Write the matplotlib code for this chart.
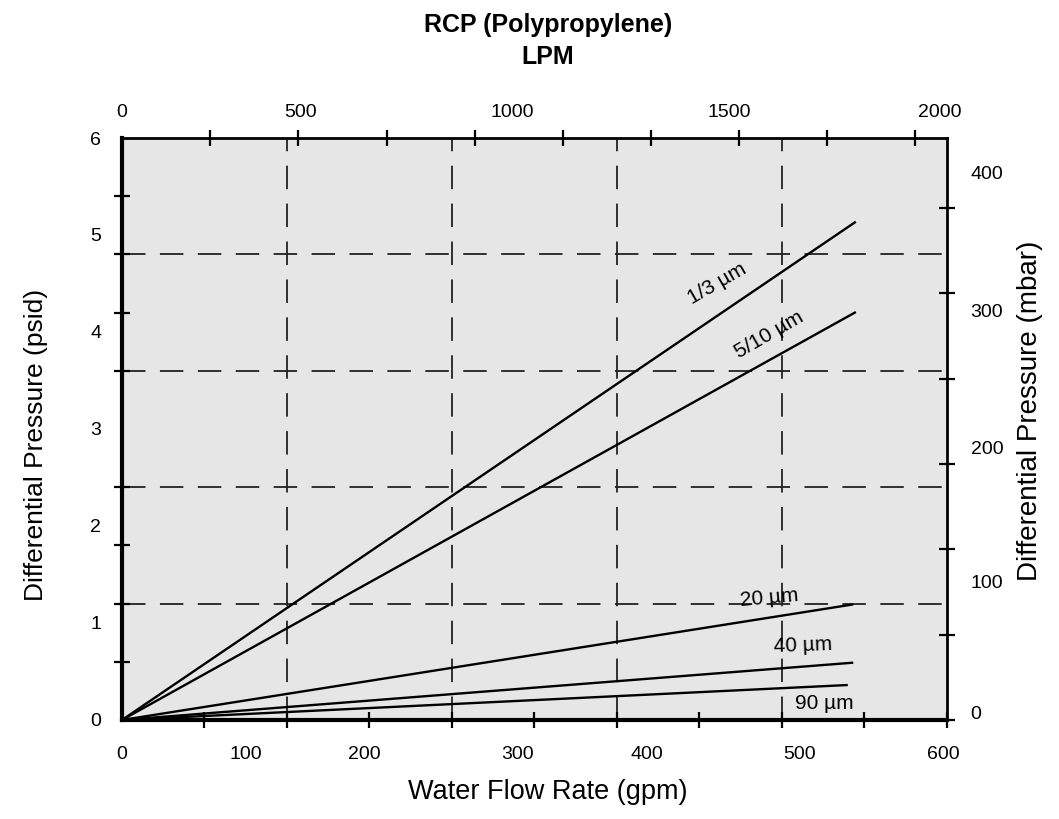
import matplotlib
matplotlib.use("Agg")
import matplotlib.pyplot as plt

plt.rcParams['font.family'] = ['Liberation Sans', 'DejaVu Sans']

# --- data (x in gpm, y in psid) ---
sizes      = ["1/3 µm", "5/10 µm", "20 µm", "40 µm", "90 µm"]
flow_start = [0, 0, 0, 0, 0]
flow_end   = [533, 533, 531, 531, 527]
dp_start   = [0, 0, 0, 0, 0]
dp_end     = [5.13, 4.20, 1.19, 0.59, 0.36]

# label anchor (gpm, psid) and angle for each curve
label_x   = [433, 471, 471, 495, 511]
label_y   = [4.50, 3.97, 1.26, 0.77, 0.175]
label_rot = [30, 30, 5, 2, 0]

# dashed reference grid
grid_x = [120, 240, 360, 480]
grid_y = [1.2, 2.4, 3.6, 4.8]

# bottom axis (gpm): label positions as printed on the scan, tick marks every 60
gpm_label_pos = [0, 90, 176, 288, 382, 493, 597]
gpm_labels    = ["0", "100", "200", "300", "400", "500", "600"]
gpm_ticks     = [0, 60, 120, 180, 240, 300, 360, 420, 480, 540, 600]

# left axis (psid)
psid_label_pos = [0, 1, 2, 3, 4, 5, 6]
psid_labels    = ["0", "1", "2", "3", "4", "5", "6"]
psid_ticks     = [0, 0.6, 1.2, 1.8, 2.4, 3.0, 3.6, 4.2, 4.8, 5.4, 6.0]

# top axis (LPM)
lpm_label_pos = [0, 130, 284, 442, 595]
lpm_labels    = ["0", "500", "1000", "1500", "2000"]
lpm_ticks     = [0, 64, 128, 193, 257, 321, 385, 449, 513, 577]

# right axis (mbar)
mbar_label_pos = [0.08, 1.43, 2.81, 4.22, 5.64]
mbar_labels    = ["0", "100", "200", "300", "400"]
mbar_ticks     = [0, 0.88, 1.76, 2.64, 3.52, 4.40, 5.28]

TICK_FS = 14

fig = plt.figure(figsize=(10.59, 8.19), dpi=100)
ax = fig.add_axes([0.1152, 0.1209, 0.7790, 0.7106])
ax.set_facecolor("#e6e6e6")
ax.set_xlim(0, 600)
ax.set_ylim(0, 6)

for gx in grid_x:
    ax.axvline(gx, color="#222222", lw=1.3, dashes=(13, 8), zorder=1)
for gy in grid_y:
    ax.axhline(gy, color="#222222", lw=1.3, dashes=(13, 8), zorder=1)

for i, name in enumerate(sizes):
    ax.plot([flow_start[i], flow_end[i]], [dp_start[i], dp_end[i]],
            color="black", lw=1.7, zorder=3)
    ax.text(label_x[i], label_y[i], name, rotation=label_rot[i],
            ha="center", va="center", fontsize=15, zorder=4)

# main axes ticks: labels on major (no mark), marks on minor
ax.set_xticks(gpm_label_pos, gpm_labels, fontsize=TICK_FS)
ax.set_xticks(gpm_ticks, minor=True)
ax.set_yticks(psid_label_pos, psid_labels, fontsize=TICK_FS)
ax.set_yticks(psid_ticks, minor=True)
ax.tick_params(which="major", length=0)
ax.tick_params(axis="x", which="major", pad=19)
ax.tick_params(axis="y", which="major", pad=15)
ax.tick_params(which="minor", direction="inout", length=11, width=1.6, color="black")

for side in ["left", "bottom"]:
    ax.spines[side].set_linewidth(3.0)
for side in ["top", "right"]:
    ax.spines[side].set_linewidth(2.0)

# top axis (LPM)
axT = ax.twiny()
axT.set_xlim(ax.get_xlim())
axT.set_xticks(lpm_label_pos, lpm_labels, fontsize=TICK_FS)
axT.set_xticks(lpm_ticks, minor=True)
axT.tick_params(which="major", length=0, pad=12)
axT.tick_params(which="minor", direction="inout", length=11, width=1.6, color="black")
for s in axT.spines.values():
    s.set_visible(False)

# right axis (mbar)
axR = ax.twinx()
axR.set_ylim(ax.get_ylim())
axR.set_yticks(mbar_label_pos, mbar_labels, fontsize=TICK_FS)
axR.set_yticks(mbar_ticks, minor=True)
axR.tick_params(which="major", length=0, pad=17)
axR.tick_params(which="minor", direction="inout", length=11, width=1.6, color="black")
for s in axR.spines.values():
    s.set_visible(False)

fig.text(0.5175, 1 - 25 / 819, "RCP (Polypropylene)", ha="center", va="center",
         fontsize=18, fontweight="bold")
fig.text(0.5175, 1 - 57 / 819, "LPM", ha="center", va="center",
         fontsize=18, fontweight="bold")
fig.text(0.5175, 1 - 792 / 819, "Water Flow Rate (gpm)", ha="center", va="center",
         fontsize=19.5)
fig.text(36 / 1059, 1 - 445 / 819, "Differential Pressure (psid)", rotation=90,
         ha="center", va="center", fontsize=19)
fig.text(1030 / 1059, 1 - 411 / 819, "Differential Pressure (mbar)", rotation=90,
         ha="center", va="center", fontsize=20)

fig.savefig("out.png", dpi=100)
